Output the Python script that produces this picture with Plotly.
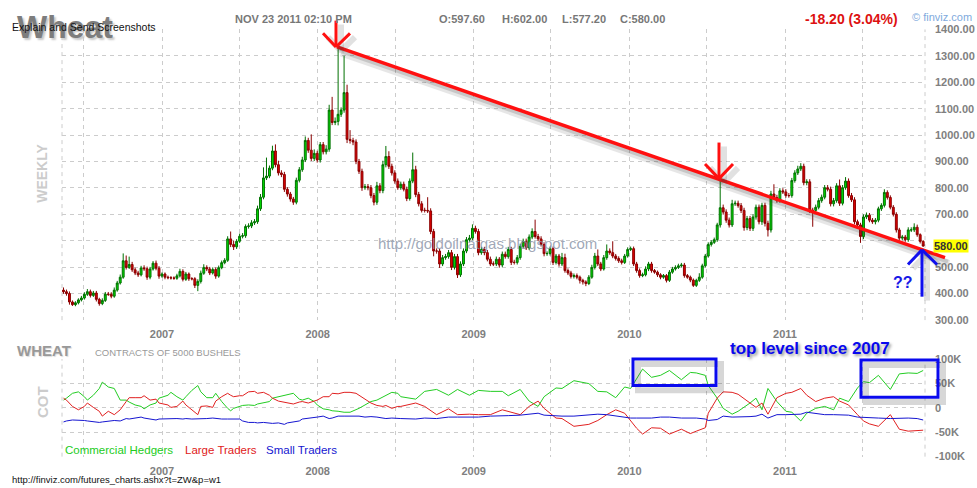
import pandas as pd
import plotly.graph_objects as go

W, H = 977, 488

# ---------------- weekly wheat candles ----------------
start = "2006-05-15"
first_open = 413
close = [
407,400,368,358,365,376,383,397,407,393,402,378,362,374,398,397,390,413,440,462,
524,499,510,490,478,471,497,494,462,493,515,496,466,474,462,460,459,458,467,484,
454,474,456,456,431,446,477,499,493,478,491,466,498,517,526,607,586,577,598,617,
619,654,656,668,672,721,765,838,845,875,940,888,857,851,795,777,758,746,829,869,
906,980,943,912,931,906,964,937,947,1095,1048,1052,1079,1095,1161,984,980,974,900,863,
801,805,801,771,746,808,790,888,919,882,857,826,801,814,795,760,826,869,775,740,
715,715,713,635,561,561,512,536,540,555,499,540,471,512,561,604,610,647,635,555,
567,555,530,512,512,530,508,549,540,567,518,518,536,579,598,573,614,635,616,607,
586,551,552,570,518,542,512,536,487,478,465,468,462,450,444,438,462,499,542,512,
493,536,561,555,542,533,524,518,542,567,570,512,487,468,471,493,512,487,481,471,
462,468,450,481,493,499,505,508,468,462,451,431,450,462,505,542,586,594,604,660,
725,709,678,660,740,742,733,715,650,684,647,690,727,672,734,666,641,777,764,752,
789,785,771,771,828,857,872,882,820,823,715,715,727,752,765,801,795,740,752,808,
742,801,826,771,755,672,660,616,690,697,678,672,678,721,734,783,764,727,700,641,
610,614,604,641,641,651,623,597.6,580]

wick_hi = [
10,8,8,6,6,6,8,8,10,8,8,8,6,8,8,8,8,10,8,10,
28,20,30,10,8,8,8,10,8,8,8,10,8,6,6,6,6,6,8,10,
8,8,6,6,6,8,10,12,8,8,8,8,8,8,8,10,28,14,8,10,
10,8,10,10,10,12,12,40,70,10,20,25,15,10,10,8,8,8,10,10,
12,15,10,60,15,10,10,10,15,20,50,15,260,10,140,30,35,10,10,10,
10,10,10,10,10,15,10,15,40,20,10,10,10,10,10,10,10,65,15,10,
10,10,50,10,10,10,10,10,10,10,10,10,10,10,10,10,12,15,10,10,
10,10,10,10,10,10,8,10,10,10,10,10,10,10,10,10,10,12,45,10,
10,8,8,8,8,8,8,18,15,8,8,8,8,6,6,6,8,10,12,25,
8,10,25,10,43,8,8,8,8,8,8,8,8,8,8,10,8,8,6,6,
6,6,6,8,8,8,8,8,8,6,6,6,6,15,8,8,8,8,8,8,
105,12,10,10,15,10,10,10,10,10,10,10,10,10,10,10,10,12,37,10,
10,10,10,10,10,10,12,12,10,10,10,10,10,10,10,10,10,10,10,10,
24,10,15,10,10,10,8,8,10,10,8,8,8,8,8,12,8,8,8,8,
8,8,8,10,10,15,10,5,4.4]

wick_lo = [
8,8,10,5,6,6,6,6,6,8,6,8,8,6,6,6,8,6,6,6,
6,8,6,8,8,8,6,8,10,8,6,8,10,6,8,6,6,6,6,6,
8,6,8,6,10,22,8,6,8,8,6,10,6,6,6,6,10,12,8,6,
8,8,8,8,8,8,8,8,8,8,8,10,10,10,10,10,10,10,8,8,
8,8,10,10,10,10,10,10,10,10,10,10,15,10,10,14,12,12,10,10,
12,8,10,10,12,10,10,10,10,10,10,10,8,8,8,10,8,8,10,10,
8,8,8,10,20,10,15,8,8,8,10,8,12,8,8,8,8,8,8,10,
8,10,8,8,8,8,10,8,8,8,10,8,8,8,8,8,8,8,8,8,
8,10,8,8,10,8,10,8,8,8,8,8,8,12,10,10,6,6,8,8,
8,6,8,8,8,8,8,8,6,6,6,8,8,8,6,6,8,8,6,8,
8,6,8,6,6,6,6,6,8,6,8,6,6,6,6,6,6,8,6,8,
10,10,10,10,8,8,8,10,12,10,10,10,10,10,12,12,25,10,8,8,
8,8,8,8,8,8,8,8,10,10,10,62,10,8,8,8,8,10,10,8,
10,8,8,8,8,10,8,24,10,8,8,8,10,8,8,8,8,8,8,10,
10,8,8,8,8,8,8,8,2.8]

# ---------------- COT net positions, thousands of contracts ----------------
cot_week = [0,1,3,5,7,8,10,12,13,15,17,19,21,22,24,26,27,29,31,32,
            35,36,38,40,41,43,45,46,48,50,51,53,55,56,57,59,60,62,64,65,
            67,69,70,72,74,75,77,79,80,82,84,85,87,89,90,92,94,96,98,99,
            101,103,105,107,108,110,112,
            113,118,121,125,129,132,136,139,143,147,149,153,156,159,161,165,167,171,176,179,
            182,185,188,190,192,194,197,200,203,207,210,212,215,216,219,221,224,226,230,232,
            234,236,239,242,244,247,249,252,255,258,260,263,266,268,270,273,277,280,283,286,288]
comm = [16,20,30,33,23,16,26,40,53,43,40,16,16,12,6,3,-2,6,10,20,
        26,32,23,16,23,36,46,33,21,21,30,13,-1,-6,-1,3,5,6,5,8,
        10,13,20,23,25,26,30,18,16,20,13,6,-2,-4,-6,-7,-9,-9,-4,-1,
        6,13,16,23,26,32,30,
        23,18,34,38,26,38,26,36,34,34,25,38,14,3,23,41,40,56,50,34,
        33,21,43,40,60,80,63,67,77,58,73,72,67,46,20,-1,-13,-7,10,20,
        -4,40,13,-7,-9,-27,-11,-1,3,-4,20,13,41,54,52,67,38,70,72,71,77]
large = [20,16,3,-4,3,10,1,-7,-17,-7,-14,-4,13,21,21,21,25,16,18,10,
         6,1,3,14,6,-4,-14,3,4,1,14,23,30,26,23,25,25,33,34,30,
         32,26,20,14,12,10,8,12,13,10,13,16,23,23,30,29,32,32,30,26,
         18,10,5,3,5,-1,3,
         3,10,3,-14,-2,-14,-13,-14,-14,-4,-7,-14,3,14,-1,-21,-22,-38,-34,-26,
         -14,-4,-11,-27,-42,-54,-41,-42,-54,-44,-53,-48,-41,-11,20,33,32,28,10,1,
         10,-13,21,30,32,40,26,13,20,23,14,6,-14,-27,-33,-38,-14,-44,-48,-46,-46]
small = [-29,-27,-25,-25,-26,-27,-29,-30,-29,-27,-26,-27,-22,-23,-21,-19,-21,-23,-25,-23,
         -22,-23,-22,-23,-22,-23,-23,-23,-22,-21,-22,-23,-23,-23,-23,-23,-27,-30,-30,-31,
         -30,-32,-32,-31,-34,-31,-29,-27,-23,-22,-21,-19,-17,-22,-21,-17,-17,-17,-17,-17,
         -19,-18,-19,-21,-22,-21,-21,
         -22,-23,-21,-22,-19,-19,-19,-19,-17,-17,-16,-15,-13,-11,-15,-17,-17,-17,-15,-13,
         -14,-17,-19,-21,-21,-21,-21,-19,-19,-21,-21,-21,-23,-26,-24,-17,-19,-19,-18,-17,
         -13,-21,-14,-14,-14,-13,-9,-11,-14,-14,-14,-15,-19,-20,-21,-21,-22,-21,-21,-22,-25]

price_ticks = list(range(300, 1500, 100))
last_label = 580
cot_ticks = [-100, -50, 0, 50, 100]
cot_labels = ["-100K", "-50K", "0", "50K", "100K"]
year_ticks = ["2007-01-01", "2008-01-01", "2009-01-01", "2010-01-01", "2011-01-01"]
year_labels = ["2007", "2008", "2009", "2010", "2011"]
mid_ticks = ["2006-07-01", "2007-07-01", "2008-07-01", "2009-07-01", "2010-07-01", "2011-07-01"]

# ---------------- derived series ----------------
dates = pd.date_range(start, periods=len(close), freq="7D")
opens = [first_open] + close[:-1]
highs = [max(o, c) + w for o, c, w in zip(opens, close, wick_hi)]
lows = [min(o, c) - w for o, c, w in zip(opens, close, wick_lo)]
cot_dates = [pd.Timestamp(start) + pd.Timedelta(weeks=w) for w in cot_week]
# the tick label hidden behind the last-price tag
price_text = ["" if abs(v - last_label) < 50 else f"{v:.2f}" for v in price_ticks]

FONT = "Liberation Sans, Arial, sans-serif"
GRID = "#cccccc"
DASH = "4px,4px"
TICKC = "#808080"


def px(x):
    return x / W


def py(y):
    return 1 - y / H


fig = go.Figure()
fig.add_trace(go.Candlestick(
    x=dates, open=opens, high=highs, low=lows, close=close,
    increasing=dict(line=dict(color="#007000", width=1), fillcolor="#00dd00"),
    decreasing=dict(line=dict(color="#8a0000", width=1), fillcolor="#e00000"),
    whiskerwidth=0, showlegend=False, hoverinfo="skip", xaxis="x", yaxis="y"))

for vals, col in [(comm, "#22cc22"), (large, "#e02020"), (small, "#1515d0")]:
    fig.add_trace(go.Scatter(x=cot_dates, y=vals, mode="lines",
                             line=dict(color=col, width=1),
                             showlegend=False, hoverinfo="skip", xaxis="x2", yaxis="y2"))

xdom = [px(62), px(925)]
xrange_ = ["2006-05-11 12:00", "2011-11-25 07:00"]
xcommon = dict(type="date", range=xrange_, domain=xdom, tickvals=year_ticks, ticktext=year_labels,
               showgrid=True, gridcolor=GRID, griddash=DASH, gridwidth=1, ticks="",
               zeroline=False, showline=False, ticklabelstandoff=6,
               tickfont=dict(family=FONT, size=11, color=TICKC, weight="bold"),
               minor=dict(tickvals=mid_ticks, showgrid=True, gridcolor=GRID, griddash=DASH, gridwidth=1))
ycommon = dict(side="right", showgrid=True, gridcolor=GRID, griddash=DASH, gridwidth=1, ticks="",
               zeroline=False, showline=False, ticklabelstandoff=9,
               tickfont=dict(family=FONT, size=11, color=TICKC, weight="bold"))

fig.update_layout(
    width=W, height=H, margin=dict(l=0, r=0, t=0, b=0),
    paper_bgcolor="white", plot_bgcolor="white", boxgap=0.1,
    xaxis=dict(anchor="y", rangeslider=dict(visible=False), **xcommon),
    yaxis=dict(domain=[py(322), py(24)], range=[299.5, 1400.5], tickvals=price_ticks,
               ticktext=price_text, anchor="x", **ycommon),
    xaxis2=dict(anchor="y2", matches="x", **xcommon),
    yaxis2=dict(domain=[py(462), py(362)], range=[-100.5, 100.5], tickvals=cot_ticks,
                ticktext=cot_labels, anchor="x2", **ycommon),
)

shapes = []
# dashed side borders of both panels
for xr, yr in [("x domain", "y domain"), ("x2 domain", "y2 domain")]:
    for xv in (0, 1):
        shapes.append(dict(type="line", xref=xr, yref=yr, x0=xv, x1=xv, y0=0, y1=1,
                           line=dict(color=GRID, width=1, dash=DASH), layer="below"))


def seg(x0, y0, x1, y1, color, width, opacity=1.0):
    shapes.append(dict(type="line", xref="paper", yref="paper", x0=px(x0), y0=py(y0),
                       x1=px(x1), y1=py(y1), line=dict(color=color, width=width), opacity=opacity))


SH = "rgba(60,60,60,1)"
# trend line with soft shadow
seg(341, 48, 949, 264, SH, 7, 0.12)
seg(340, 46, 948, 262, SH, 4, 0.18)
seg(337, 42, 945, 258, "#ff1010", 3.5)
arrow_red1 = [(336, 15, 336, 42), (323, 28, 336, 42), (350, 28, 336, 42)]
arrow_red2 = [(719, 140, 719, 177), (705, 162, 719, 177), (733, 162, 719, 177)]
arrow_blue = [(922, 298, 922, 250), (908, 265, 922, 250), (937, 265, 922, 250)]
for segs, col in [(arrow_red1, "#ff1010"), (arrow_red2, "#ff1010"), (arrow_blue, "#1010ee")]:
    for (a, b, c, d) in segs:
        seg(a + 5, b + 4, c + 5, d + 4, SH, 6, 0.15)
    for (a, b, c, d) in segs:
        seg(a, b, c, d, col, 3)
# blue boxes with shadows
for (x0, y0, x1, y1) in [(633, 362, 716, 389), (861, 363, 938, 401)]:
    shapes.append(dict(type="rect", xref="paper", yref="paper", x0=px(x0 + 5), y0=py(y0 + 5),
                       x1=px(x1 + 5), y1=py(y1 + 5), line=dict(color=SH, width=6), opacity=0.2))
    shapes.append(dict(type="rect", xref="paper", yref="paper", x0=px(x0), y0=py(y0),
                       x1=px(x1), y1=py(y1), line=dict(color="#0a0aee", width=3)))
fig.update_layout(shapes=shapes)

ann = []


def text(x, y, s, size, color, xa="left", bold=False, angle=0, shadow=None, bg=None, yref="paper", yv=None):
    f = dict(family=FONT, size=size, color=color)
    if bold:
        f["weight"] = "bold"
    if shadow:
        f["shadow"] = shadow
    d = dict(x=px(x), y=(py(y) if yv is None else yv), xref="paper", yref=yref, text=s, showarrow=False,
             xanchor=xa, yanchor="middle", font=f, textangle=angle)
    if bg:
        d["bgcolor"] = bg
        d["borderpad"] = 0
    ann.append(d)


text(15, 22, "Wheat", 32, "#7d7d7d", bold=True, shadow="2px 2px 2px #c8c8c8")
text(10, 22, "Explain and Send Screenshots", 10.5, "#111111")
text(233, 13, "NOV 23 2011 02:10 PM", 11, "#777777", bold=True)
text(437, 13, "O:597.60", 11, "#777777", bold=True)
text(500, 13, "H:602.00", 11, "#777777", bold=True)
text(560, 13, "L:577.20", 11, "#777777", bold=True)
text(618, 13, "C:580.00", 11, "#777777", bold=True)
text(803, 13, "-18.20 (3.04%)", 14, "#dd1111", bold=True)
text(910, 11, "© finviz.com", 11, "#80aadd")
text(42, 172, "WEEKLY", 14, "#cccccc", xa="center", bold=True, angle=-90)
text(15, 353, "WHEAT", 15, "#999999", bold=True, shadow="1px 1px 1px #dddddd")
text(93, 355, "CONTRACTS OF 5000 BUSHELS", 9.5, "#999999")
text(42, 406, "COT", 15, "#cccccc", xa="center", bold=True, angle=-90)
text(63, 455, "Commercial Hedgers", 11.5, "#22cc22")
text(183, 455, "Large Traders", 11.5, "#e02020")
text(264, 455, "Small Traders", 11.5, "#1515d0")
text(487, 243, "http://goldoilnatgas.blogspot.com", 15, "rgba(135,145,165,0.8)", xa="center")
text(728, 351, "top level since 2007", 17, "#0808ee", bold=True, shadow="2px 2px 3px #999999")
text(903, 283, "??", 16, "#1818e6", xa="center", bold=True)
text(933, 0, f"{last_label:.2f}", 11, "#333333", bold=True, bg="#ffff00", yref="y", yv=last_label)
text(10, 485, "http://finviz.com/futures_charts.ashx?t=ZW&p=w1", 9.5, "#111111")
fig.update_layout(annotations=ann)

fig.write_html("out.html")
